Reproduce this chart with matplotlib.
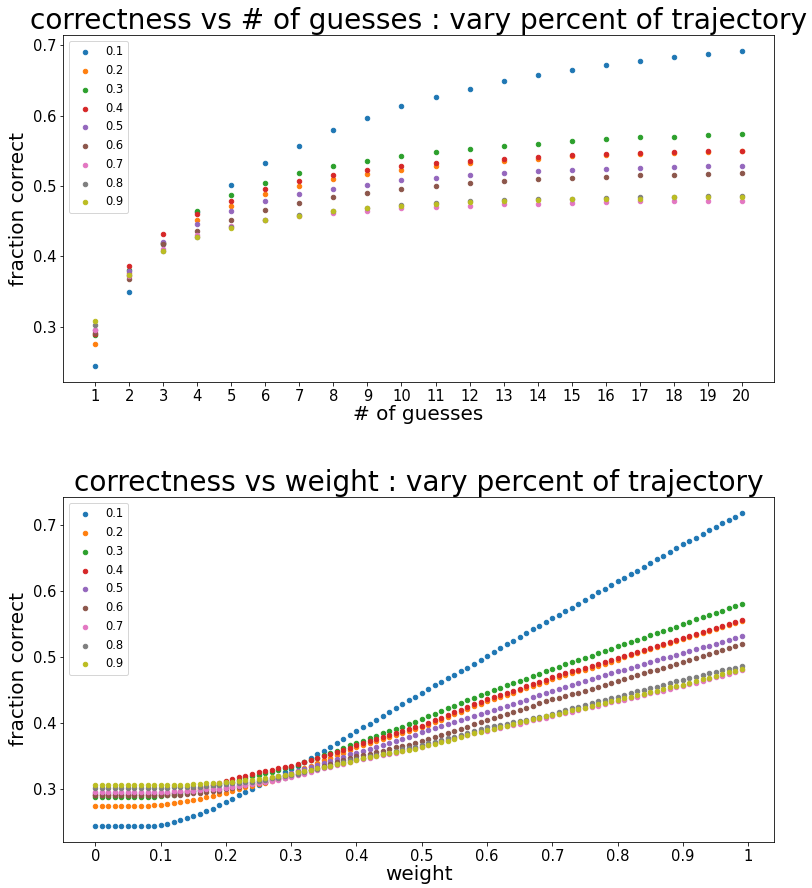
import numpy as np
import matplotlib
matplotlib.use("Agg")
import matplotlib.pyplot as plt

# percent of trajectory used (legend labels)
percents = ["0.1", "0.2", "0.3", "0.4", "0.5", "0.6", "0.7", "0.8", "0.9"]
colors = ["#1f77b4", "#ff7f0e", "#2ca02c", "#d62728", "#9467bd",
          "#8c564b", "#e377c2", "#7f7f7f", "#bcbd22"]

# ---- top panel: fraction correct vs number of guesses ----
guesses = list(range(1, 21))
guess_acc = {
    "0.1": [0.244, 0.349, 0.417, 0.463, 0.501, 0.533, 0.557, 0.579, 0.597, 0.613,
            0.626, 0.638, 0.649, 0.657, 0.665, 0.672, 0.677, 0.683, 0.687, 0.692],
    "0.2": [0.275, 0.376, 0.419, 0.451, 0.472, 0.488, 0.500, 0.510, 0.517, 0.523,
            0.529, 0.532, 0.536, 0.539, 0.542, 0.544, 0.546, 0.547, 0.548, 0.549],
    "0.3": [0.289, 0.381, 0.419, 0.464, 0.487, 0.504, 0.518, 0.528, 0.536, 0.543,
            0.548, 0.553, 0.557, 0.560, 0.564, 0.566, 0.569, 0.570, 0.572, 0.574],
    "0.4": [0.290, 0.386, 0.432, 0.460, 0.479, 0.495, 0.507, 0.515, 0.522, 0.528,
            0.532, 0.536, 0.538, 0.541, 0.544, 0.546, 0.547, 0.548, 0.549, 0.550],
    "0.5": [0.295, 0.379, 0.421, 0.446, 0.464, 0.478, 0.488, 0.496, 0.502, 0.508,
            0.511, 0.515, 0.518, 0.521, 0.522, 0.524, 0.525, 0.527, 0.528, 0.529],
    "0.6": [0.291, 0.368, 0.418, 0.436, 0.452, 0.466, 0.476, 0.484, 0.490, 0.496,
            0.500, 0.504, 0.507, 0.510, 0.511, 0.513, 0.515, 0.516, 0.517, 0.518],
    "0.7": [0.296, 0.372, 0.410, 0.431, 0.443, 0.452, 0.458, 0.462, 0.465, 0.468,
            0.470, 0.472, 0.474, 0.475, 0.476, 0.477, 0.478, 0.479, 0.479, 0.479],
    "0.8": [0.303, 0.373, 0.408, 0.428, 0.442, 0.452, 0.459, 0.465, 0.469, 0.473,
            0.476, 0.478, 0.480, 0.481, 0.482, 0.483, 0.484, 0.485, 0.486, 0.486],
    "0.9": [0.308, 0.373, 0.407, 0.428, 0.441, 0.451, 0.458, 0.464, 0.468, 0.472,
            0.474, 0.477, 0.478, 0.480, 0.481, 0.481, 0.482, 0.484, 0.484, 0.485],
}

# ---- bottom panel: fraction correct vs weight (x1000) ----
weights = [i / 100 for i in range(100)]
weight_tick_pos = [0, 0.1, 0.2, 0.3, 0.4, 0.5, 0.6, 0.7, 0.8, 0.9, 1.0]
weight_tick_lbl = ["0", "0.1", "0.2", "0.3", "0.4", "0.5", "0.6", "0.7", "0.8", "0.9", "1"]

weight_acc = {
    "0.1": [243, 243, 243, 243, 243, 243, 243, 243, 243, 244, 245, 247, 249, 252, 255, 258, 262, 266, 270, 275,
            280, 285, 290, 295, 300, 305, 310, 315, 320, 325, 330, 335, 341, 346, 352, 357, 363, 369, 375, 381,
            387, 393, 399, 405, 411, 417, 422, 428, 434, 440, 446, 451, 457, 462, 468, 473, 479, 484, 490, 496,
            502, 507, 513, 519, 524, 530, 536, 542, 547, 553, 559, 564, 570, 575, 581, 586, 592, 598, 603, 609,
            615, 620, 626, 631, 637, 643, 648, 654, 659, 665, 671, 676, 681, 687, 692, 697, 703, 708, 713, 719],
    "0.2": [274, 274, 274, 274, 274, 274, 274, 274, 274, 275, 276, 277, 278, 280, 281, 283, 285, 287, 289, 292,
            294, 297, 299, 302, 304, 307, 309, 312, 316, 319, 323, 327, 331, 335, 339, 343, 347, 351, 355, 359,
            363, 366, 369, 372, 375, 378, 381, 384, 387, 390, 393, 397, 401, 405, 409, 413, 417, 421, 425, 429,
            433, 436, 440, 443, 446, 450, 453, 456, 459, 462, 466, 469, 472, 475, 478, 481, 484, 487, 490, 493,
            496, 500, 503, 506, 509, 512, 515, 518, 521, 524, 527, 530, 533, 536, 539, 542, 545, 548, 551, 554],
    "0.3": [288, 288, 288, 288, 288, 288, 288, 288, 288, 288, 289, 290, 291, 292, 294, 296, 298, 300, 303, 306,
            309, 311, 314, 316, 319, 321, 324, 326, 328, 331, 333, 336, 340, 343, 347, 351, 355, 358, 362, 366,
            370, 373, 377, 380, 384, 387, 391, 394, 398, 402, 406, 410, 414, 418, 422, 426, 430, 434, 438, 442,
            446, 450, 453, 457, 460, 464, 467, 471, 474, 478, 482, 485, 489, 492, 495, 499, 502, 506, 509, 512,
            516, 519, 523, 526, 529, 533, 536, 540, 543, 546, 550, 553, 557, 560, 563, 567, 570, 574, 577, 581],
    "0.4": [290, 290, 290, 290, 290, 290, 290, 290, 290, 290, 291, 292, 293, 295, 297, 299, 301, 303, 306, 309,
            312, 315, 318, 320, 322, 325, 327, 329, 331, 333, 335, 338, 341, 344, 347, 350, 353, 356, 359, 362,
            366, 369, 372, 375, 378, 381, 384, 387, 390, 393, 396, 400, 404, 408, 412, 416, 420, 424, 428, 432,
            436, 439, 443, 446, 449, 452, 456, 459, 462, 465, 469, 472, 475, 478, 481, 484, 487, 490, 493, 496,
            499, 502, 505, 508, 511, 514, 517, 520, 523, 526, 529, 532, 535, 538, 541, 544, 547, 550, 553, 556],
    "0.5": [293, 293, 293, 293, 293, 293, 293, 293, 293, 293, 293, 294, 294, 295, 295, 296, 297, 298, 299, 300,
            302, 304, 306, 308, 310, 312, 314, 316, 318, 321, 324, 327, 330, 333, 336, 339, 342, 345, 348, 352,
            355, 358, 361, 364, 367, 370, 373, 376, 379, 382, 386, 389, 392, 395, 398, 401, 404, 407, 411, 414,
            417, 420, 423, 426, 429, 432, 435, 439, 442, 445, 448, 451, 454, 457, 460, 463, 466, 470, 472, 475,
            478, 481, 484, 486, 489, 492, 495, 498, 500, 503, 506, 509, 512, 515, 517, 520, 523, 526, 529, 532],
    "0.6": [290, 290, 290, 290, 290, 290, 290, 290, 290, 290, 290, 290, 291, 291, 292, 293, 294, 295, 296, 297,
            299, 301, 303, 305, 307, 309, 311, 313, 315, 317, 320, 323, 326, 329, 332, 335, 338, 341, 344, 346,
            349, 351, 353, 356, 358, 360, 363, 365, 367, 370, 372, 375, 378, 382, 385, 388, 391, 394, 398, 401,
            404, 407, 410, 414, 417, 420, 423, 426, 430, 433, 436, 438, 441, 444, 446, 449, 451, 454, 457, 460,
            463, 466, 469, 472, 475, 478, 481, 484, 487, 490, 493, 496, 499, 502, 504, 507, 510, 513, 516, 519],
    "0.7": [295, 295, 295, 295, 295, 295, 295, 295, 295, 295, 295, 295, 296, 296, 297, 297, 298, 299, 299, 300,
            301, 302, 304, 305, 307, 308, 310, 312, 314, 316, 318, 321, 323, 326, 328, 331, 333, 336, 338, 341,
            343, 345, 347, 349, 351, 353, 355, 358, 360, 362, 364, 367, 369, 372, 374, 377, 380, 382, 385, 387,
            388, 390, 392, 395, 397, 399, 402, 404, 406, 408, 410, 413, 415, 417, 419, 422, 424, 426, 428, 431,
            433, 435, 438, 440, 442, 445, 447, 449, 452, 454, 456, 459, 461, 464, 466, 469, 471, 474, 477, 481],
    "0.8": [301, 301, 301, 301, 301, 301, 301, 301, 301, 301, 301, 301, 302, 302, 302, 303, 303, 304, 305, 306,
            307, 308, 309, 310, 311, 312, 314, 316, 317, 319, 321, 323, 326, 328, 330, 333, 335, 338, 340, 343,
            345, 347, 349, 351, 353, 355, 357, 360, 362, 364, 366, 369, 371, 374, 377, 379, 382, 385, 388, 390,
            393, 395, 397, 399, 401, 403, 405, 407, 409, 411, 414, 416, 419, 422, 424, 427, 430, 433, 435, 438,
            440, 443, 445, 448, 450, 453, 455, 458, 460, 463, 465, 468, 470, 473, 475, 477, 480, 482, 484, 486],
    "0.9": [306, 306, 306, 306, 306, 306, 306, 306, 306, 306, 306, 306, 306, 306, 306, 307, 307, 308, 308, 309,
            310, 311, 312, 313, 314, 315, 316, 318, 319, 321, 323, 325, 327, 329, 331, 333, 335, 337, 339, 341,
            344, 346, 348, 350, 352, 354, 356, 358, 359, 361, 363, 366, 368, 371, 373, 376, 379, 381, 384, 386,
            389, 391, 394, 396, 399, 401, 403, 406, 408, 410, 412, 414, 417, 419, 421, 423, 426, 428, 430, 433,
            435, 437, 440, 442, 444, 447, 449, 451, 454, 456, 458, 461, 463, 466, 468, 471, 474, 477, 479, 482],
}

# sizes in points at 72 dpi (== pixels)
TITLE_SIZE = 28
LABEL_SIZE = 20
TICK_SIZE = 14.7
LEGEND_SIZE = 11.5
DOT = 20

fig = plt.figure(figsize=(812 / 72, 888 / 72), dpi=72)

# top panel
ax1 = fig.add_axes([63 / 812, 1 - 382 / 888, 711 / 812, 347 / 888])
for p, c in zip(percents, colors):
    ax1.scatter(guesses, guess_acc[p], s=DOT, color=c, label=p)
ax1.set_xticks(guesses)
ax1.set_title("correctness vs # of guesses : vary percent of trajectory", fontsize=TITLE_SIZE)
ax1.set_xlabel("# of guesses", fontsize=LABEL_SIZE, labelpad=1)
ax1.set_ylabel("fraction correct", fontsize=LABEL_SIZE)
ax1.tick_params(labelsize=TICK_SIZE)
ax1.legend(loc="upper left", fontsize=LEGEND_SIZE)

# bottom panel
ax2 = fig.add_axes([63 / 812, 1 - 842 / 888, 711 / 812, 345 / 888])
for p, c in zip(percents, colors):
    ax2.scatter(weights, np.array(weight_acc[p]) / 1000, s=DOT, color=c, label=p)
ax2.set_xticks(weight_tick_pos)
ax2.set_xticklabels(weight_tick_lbl)
ax2.set_title("correctness vs weight : vary percent of trajectory", fontsize=TITLE_SIZE)
ax2.set_xlabel("weight", fontsize=LABEL_SIZE, labelpad=1)
ax2.set_ylabel("fraction correct", fontsize=LABEL_SIZE)
ax2.tick_params(labelsize=TICK_SIZE)
ax2.legend(loc="upper left", fontsize=LEGEND_SIZE)

fig.savefig("out.png", dpi=72)
